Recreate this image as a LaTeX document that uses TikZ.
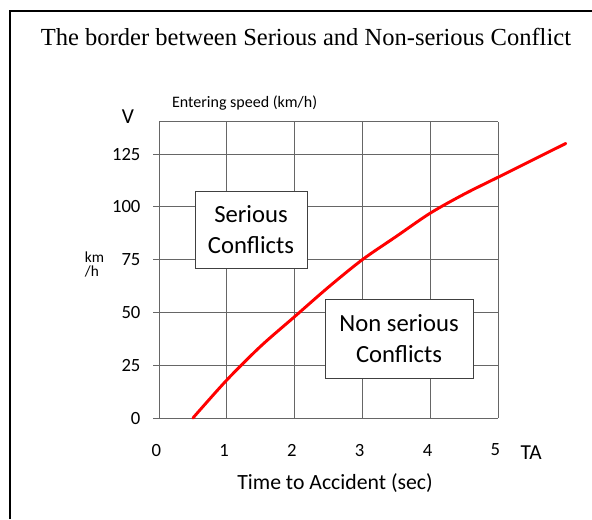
\documentclass[tikz,border=0pt]{standalone}
\usepackage{fontspec}
\setmainfont{Carlito}
\newfontfamily\titlefont{Liberation Serif}
\usetikzlibrary{positioning}

\tikzset{
  grid line/.style={draw=black!60, line width=0.75pt},
  label box/.style={draw=black!75, fill=white, line width=0.75pt, align=center,
    font=\fontsize{18.5}{23}\selectfont},
  tick label/.style={font=\fontsize{14}{16}\selectfont, inner sep=0pt},
  axis name/.style={font=\fontsize{16}{18}\selectfont, inner sep=0pt},
}

\begin{document}
\begin{tikzpicture}[x=50.85pt, y=1.584pt, >=stealth]

\useasboundingbox (-2.345,-47.82) rectangle (6.386,197.92);

% Frame and title

\draw [line width=1.1pt] (-2.198,-47.82) -- (-2.198,192.7) -- (6.386,192.7);
\node [font=\titlefont\fontsize{18.4}{22}\selectfont] (title) at (2.168,180.4)
  {The border between Serious and Non-serious Conflict};

% Grid

\foreach \t in {0,...,5}
  \draw [grid line] (\t,0) -- (\t,140.2);

\foreach \v in {0,25,...,125}
  \draw [grid line] (-0.088,\v) -- (5,\v);

\draw [grid line] (0,140.2) -- (5,140.2);

% Tick labels

\foreach \v in {0,25,...,125}
  \node [tick label, anchor=east] (v-\v) at (-0.27,\v) {\v};

\foreach \t in {0,...,5}
  \node [tick label] (t-\t) at (\t-0.04,-15.15) {\t};

% Axis names

\node [axis name] (v-name) at (-0.457,142.5) {V};
\node [font=\fontsize{12}{14}\selectfont, inner sep=0pt, anchor=west] (v-title)
  at (0.19,149.1) {Entering speed (km/h)};
\node [font=\fontsize{11.5}{10.5}\selectfont, inner sep=0pt, align=left] (v-unit)
  at (-0.95,72.5) {km\\/h};
\node [axis name] (t-name) at (5.49,-16.6) {TA};
\node [font=\fontsize{16.3}{18}\selectfont, inner sep=0pt] (t-title)
  at (2.596,-30.8) {Time to Accident (sec)};

% Border curve

\draw [red, line width=2.2pt, line cap=round] plot [smooth] coordinates
  {(0.5,0) (1,18) (1.5,34) (2,48) (2.5,62) (3,75) (3.5,86) (4,97)
   (4.5,106) (5,114) (5.5,122) (6,130)};

% Region boxes

\node [label box, minimum width=84pt, minimum height=57.75pt] (serious)
  at (1.357,89.25) {Serious\\Conflicts};
\node [label box, minimum width=111pt, minimum height=59.25pt] (nonserious)
  at (3.540,37.6) {Non serious\\Conflicts};

\end{tikzpicture}
\end{document}
